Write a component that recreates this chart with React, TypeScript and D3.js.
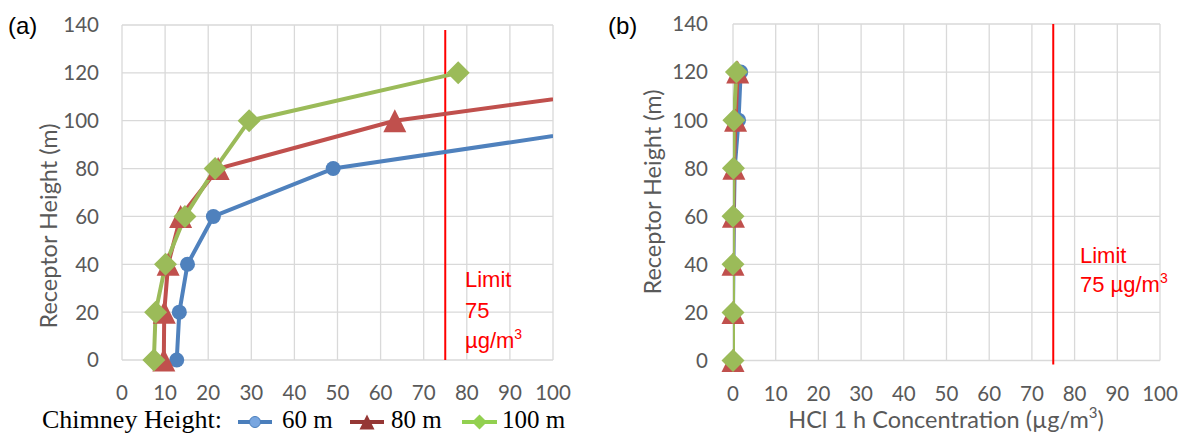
import React from 'react';
import * as d3 from 'd3';

// receptor heights (m), shared by both panels
const heights = [0, 20, 40, 60, 80, 100, 120];
const xTickValues = [0, 10, 20, 30, 40, 50, 60, 70, 80, 90, 100];
const yTickValues = [0, 20, 40, 60, 80, 100, 120, 140];
const seriesNames = ['60 m', '80 m', '100 m'];
const limitValue = 75;

// panel (a) concentrations (ug/m3) per chimney height
const conc60a = [12.7, 13.3, 15.2, 21.2, 49, 124, 190];
const conc80a = [9.7, 9.8, 10.7, 13.6, 22.3, 63.3, 145];
const conc100a = [7.4, 7.8, 10.1, 14.6, 21.6, 29.5, 78];

// panel (b) HCl 1 h concentrations
const conc60b = [0, 0, 0.1, 0.2, 0.4, 1.3, 1.8];
const conc80b = [0, 0, 0, 0.1, 0.2, 0.6, 1.1];
const conc100b = [0, 0, 0, 0, 0.1, 0.2, 0.8];

const lineColors = ['#4F81BD', '#C0504D', '#9BBB59'];
const legendColors = ['#4A7EBB', '#953735', '#92D050'];

const tickFont = 'Lato, "Open Sans", sans-serif';
const grey = '#595959';
const gridColor = '#D9D9D9';

function Marker({ kind, x, y, color, s = 1 }) {
  if (kind === 0) return <circle cx={x} cy={y} r={7.5 * s} fill={color} />;
  if (kind === 1) {
    const h = 11.5 * s;
    return <path d={`M${x},${y - h}L${x + h},${y + h}L${x - h},${y + h}Z`} fill={color} />;
  }
  const h = 11.5 * s;
  return <path d={`M${x},${y - h}L${x + h},${y}L${x},${y + h}L${x - h},${y}Z`} fill={color} />;
}

function Panel({ id, series, x0, x1, y0, y1, tag, tagX, yTitleX, yTitleY, xTitle, limitX, limitLines, limitY, labelRight }) {
  const x = d3.scaleLinear().domain([0, 100]).range([x0, x1]);
  const y = d3.scaleLinear().domain([0, 140]).range([y0, y1]);
  const lineF = d3.line<number>().x(d => x(d)).y((d, i) => y(heights[i]));

  return (
    <g>
      <defs>
        <clipPath id={`clip-${id}`}>
          <rect x={x0} y={y1 - 20} width={x1 - x0} height={y0 - y1 + 40} />
        </clipPath>
      </defs>
      {xTickValues.map(t => (
        <line key={'gx' + t} x1={x(t)} x2={x(t)} y1={y1} y2={y0} stroke={gridColor} strokeWidth={1.3} />
      ))}
      {yTickValues.map(t => (
        <line key={'gy' + t} x1={x0} x2={x1} y1={y(t)} y2={y(t)} stroke={gridColor} strokeWidth={1.3} />
      ))}
      {xTickValues.map(t => (
        <text key={'tx' + t} x={x(t)} y={y0 + 40} textAnchor="middle" fontFamily={tickFont} fontSize={20.5} fill={grey}>{t}</text>
      ))}
      {yTickValues.map(t => (
        <text key={'ty' + t} x={labelRight} y={y(t)} dy="0.36em" textAnchor="end" fontFamily={tickFont} fontSize={20.5} fill={grey}>{t}</text>
      ))}
      <line x1={x(limitValue)} x2={x(limitValue)} y1={y(140) + (id === 'a' ? 5 : 0)} y2={y(0) + (id === 'a' ? 0 : 4)} stroke="#FF0000" strokeWidth={2} />
      <g clipPath={`url(#clip-${id})`}>
        {series.map((s, i) => (
          <path key={i} d={lineF(s)} fill="none" stroke={lineColors[i]} strokeWidth={4} strokeLinejoin="round" />
        ))}
      </g>
      {series.map((s, i) => (
        <g key={'m' + i}>
          {s.map((v, j) => (v <= 100 ? <Marker key={j} kind={i} x={x(v)} y={y(heights[j])} color={lineColors[i]} /> : null))}
        </g>
      ))}
      <text x={limitX} y={limitY} fontFamily='"Liberation Sans", Arial, sans-serif' fontSize={22} fill="#FF0000">
        {limitLines.map((ln, i) => (
          <tspan key={i} x={limitX} dy={i === 0 ? 0 : limitLines.length === 3 ? 30.5 : 29}>
            {ln}
            {i === limitLines.length - 1 ? <tspan fontSize={14} dy={-9}>3</tspan> : null}
          </tspan>
        ))}
      </text>
      <text x={tagX} y={34} fontFamily='"Liberation Sans", Arial, sans-serif' fontSize={24} fill="#000">{tag}</text>
      <text transform={`translate(${yTitleX},${yTitleY}) rotate(-90)`} textAnchor="middle" fontFamily={tickFont} fontSize={23.5} fill={grey}>
        Receptor Height (m)
      </text>
      {xTitle ? (
        <text x={946} y={428} textAnchor="middle" fontFamily={tickFont} fontSize={23.5} fill={grey}>
          {xTitle}
          <tspan fontSize={15} dy={-10}>3</tspan>
          <tspan dy={10}>)</tspan>
        </text>
      ) : null}
    </g>
  );
}

function Legend() {
  const items = [
    { x1: 238, x2: 272, tx: 282 },
    { x1: 350, x2: 384, tx: 391 },
    { x1: 462, x2: 497, tx: 502 },
  ];
  const ly = 422;
  return (
    <g>
      <text x={42} y={428} fontFamily='"Liberation Serif", "Times New Roman", serif' fontSize={26} textLength={180} lengthAdjust="spacingAndGlyphs" fill="#000">Chimney Height:</text>
      {items.map((it, i) => (
        <g key={i}>
          <line x1={it.x1} x2={it.x2} y1={ly} y2={ly} stroke={legendColors[i]} strokeWidth={4} />
          {i === 0 ? (
            <circle cx={(it.x1 + it.x2) / 2} cy={ly} r={5.5} fill="#78A6E0" stroke="#4A7EBB" strokeWidth={1} />
          ) : (
            <Marker kind={i} x={(it.x1 + it.x2) / 2} y={ly} color={legendColors[i]} s={0.65} />
          )}
          <text x={it.tx} y={428} fontFamily='"Liberation Serif", "Times New Roman", serif' fontSize={25} fill="#000">{seriesNames[i]}</text>
        </g>
      ))}
    </g>
  );
}

export default function App() {
  return (
    <svg width={1180} height={434} style={{ position: 'absolute', left: 0, top: 0, background: '#fff' }}>
      <Panel
        id="a"
        series={[conc60a, conc80a, conc100a]}
        x0={122} x1={553} y0={360} y1={25}
        tag="(a)" tagX={8}
        yTitleX={57} yTitleY={226}
        xTitle={null}
        limitX={465} limitY={287}
        limitLines={['Limit', '75', 'µg/m']}
        labelRight={99}
      />
      <Panel
        id="b"
        series={[conc60b, conc80b, conc100b]}
        x0={733} x1={1160} y0={360.5} y1={24}
        tag="(b)" tagX={608}
        yTitleX={661} yTitleY={192}
        xTitle="HCl 1 h Concentration (µg/m"
        limitX={1080} limitY={263}
        limitLines={['Limit', '75 µg/m']}
        labelRight={708}
      />
      <Legend />
    </svg>
  );
}
